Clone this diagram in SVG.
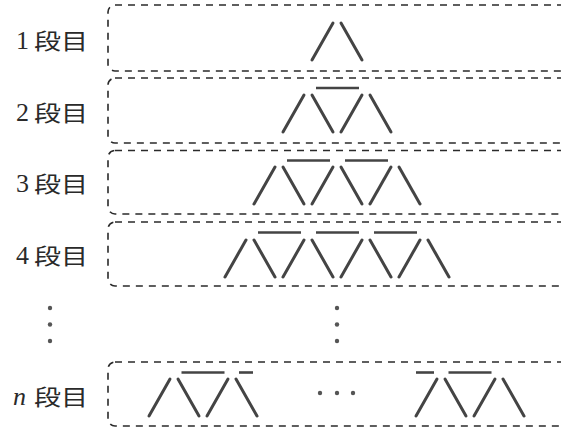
<svg xmlns="http://www.w3.org/2000/svg" width="561" height="428" viewBox="0 0 561 428">
  <style>
    .frame { fill: none; stroke: #2a2a2a; stroke-width: 1.6; stroke-dasharray: 7 6; }
    .stick { stroke: #444; stroke-width: 3; stroke-linecap: round; fill: none; }
    .bar { stroke: #444; stroke-width: 2.6; fill: none; }
    .num { font-family: "Liberation Serif", "DejaVu Serif", serif; font-size: 26px; fill: #2a2a2a; }
    .cjk { font-family: "Noto Sans CJK JP", "Noto Sans CJK SC", sans-serif; font-size: 22px; fill: #2a2a2a; }
    .dot { fill: #555; }
  </style>
  <defs>
    <!-- one "/" stick followed by a "\" stick, 37 px tall -->
    <g id="pair">
      <line class="stick" x1="0" y1="37" x2="21" y2="0"/>
      <line class="stick" x1="29" y1="0" x2="50" y2="37"/>
    </g>
  </defs>

  <!-- row labels -->
  <g id="labels">
    <text class="num" x="16" y="49">1</text>
    <text class="cjk" x="34" y="48.5" textLength="54" lengthAdjust="spacingAndGlyphs">段目</text>
    <text class="num" x="16" y="121">2</text>
    <text class="cjk" x="34" y="120.5" textLength="54" lengthAdjust="spacingAndGlyphs">段目</text>
    <text class="num" x="16" y="192">3</text>
    <text class="cjk" x="34" y="191.5" textLength="54" lengthAdjust="spacingAndGlyphs">段目</text>
    <text class="num" x="16" y="264">4</text>
    <text class="cjk" x="34" y="263.5" textLength="54" lengthAdjust="spacingAndGlyphs">段目</text>
    <text class="num" x="13" y="405" font-style="italic">n</text>
    <text class="cjk" x="34" y="404.5" textLength="54" lengthAdjust="spacingAndGlyphs">段目</text>
    <circle class="dot" cx="50" cy="308" r="2.2"/>
    <circle class="dot" cx="50" cy="324.5" r="2.2"/>
    <circle class="dot" cx="50" cy="341" r="2.2"/>
  </g>

  <!-- row 1 -->
  <g id="row1">
    <rect class="frame" x="108" y="5" width="460" height="66" rx="7"/>
    <use href="#pair" x="312" y="23"/>
  </g>

  <!-- row 2 -->
  <g id="row2">
    <rect class="frame" x="108" y="78" width="460" height="65" rx="7"/>
    <use href="#pair" x="283" y="95"/>
    <use href="#pair" x="341" y="95"/>
    <line class="bar" x1="316" y1="88" x2="359" y2="88"/>
  </g>

  <!-- row 3 -->
  <g id="row3">
    <rect class="frame" x="108" y="150.5" width="460" height="63.5" rx="7"/>
    <use href="#pair" x="254" y="167"/>
    <use href="#pair" x="312" y="167"/>
    <use href="#pair" x="370" y="167"/>
    <line class="bar" x1="287" y1="160.5" x2="330" y2="160.5"/>
    <line class="bar" x1="345" y1="160.5" x2="388" y2="160.5"/>
  </g>

  <!-- row 4 -->
  <g id="row4">
    <rect class="frame" x="108" y="222" width="460" height="64" rx="7"/>
    <use href="#pair" x="225" y="240"/>
    <use href="#pair" x="283" y="240"/>
    <use href="#pair" x="341" y="240"/>
    <use href="#pair" x="399" y="240"/>
    <line class="bar" x1="258" y1="232.5" x2="301" y2="232.5"/>
    <line class="bar" x1="316" y1="232.5" x2="359" y2="232.5"/>
    <line class="bar" x1="374" y1="232.5" x2="417" y2="232.5"/>
  </g>

  <!-- vertical ellipsis between row 4 and row n -->
  <g id="gap">
    <circle class="dot" cx="337" cy="308" r="2.2"/>
    <circle class="dot" cx="337" cy="324.5" r="2.2"/>
    <circle class="dot" cx="337" cy="341" r="2.2"/>
  </g>

  <!-- row n -->
  <g id="rowN">
    <rect class="frame" x="108" y="362" width="460" height="64" rx="7"/>
    <use href="#pair" x="149" y="379"/>
    <use href="#pair" x="207" y="379"/>
    <line class="bar" x1="181.5" y1="372.5" x2="224.5" y2="372.5"/>
    <line class="bar" x1="239" y1="372.5" x2="253" y2="372.5"/>
    <circle class="dot" cx="320" cy="393" r="2.2"/>
    <circle class="dot" cx="337" cy="393" r="2.2"/>
    <circle class="dot" cx="353" cy="393" r="2.2"/>
    <use href="#pair" x="416" y="379"/>
    <use href="#pair" x="474" y="379"/>
    <line class="bar" x1="416" y1="372.5" x2="434" y2="372.5"/>
    <line class="bar" x1="448.5" y1="372.5" x2="491.5" y2="372.5"/>
  </g>
</svg>
